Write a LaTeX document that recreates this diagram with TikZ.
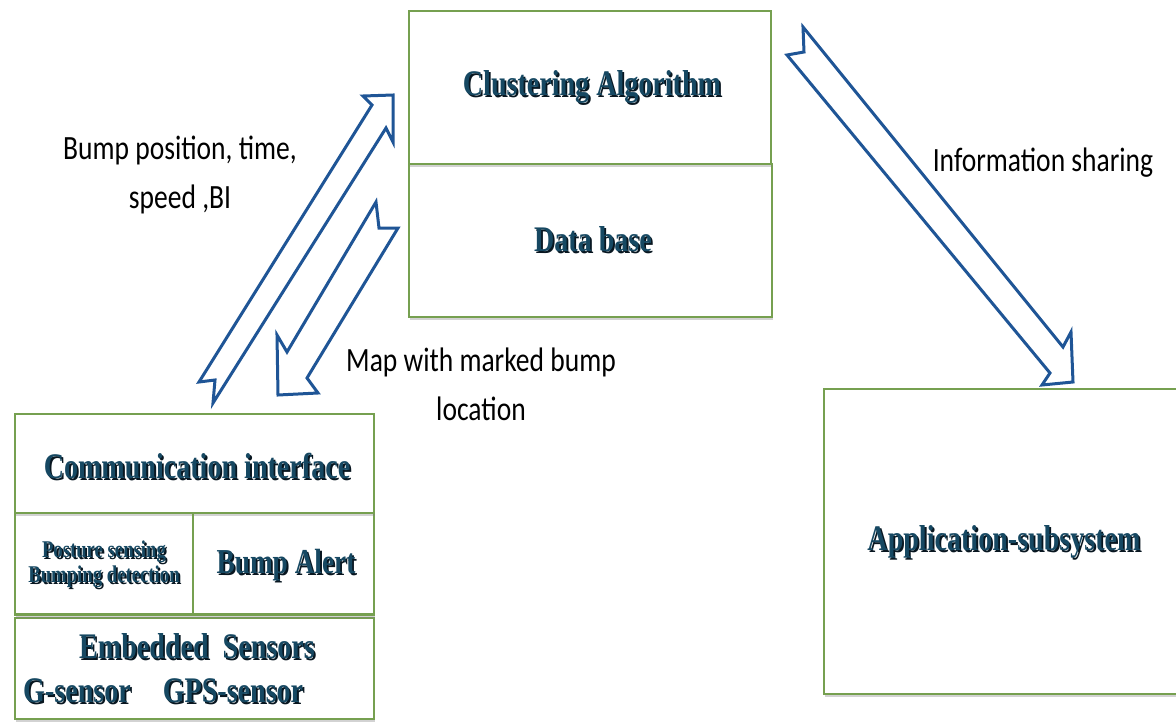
\documentclass[tikz,border=0pt]{standalone}
\usepackage{fontspec}
\usetikzlibrary{shadows}
\newfontfamily\boxfont[FakeStretch=0.78]{Liberation Serif}
\newfontfamily\lblfont[FakeStretch=0.81]{Carlito}
\definecolor{boxgreen}{RGB}{118,160,80}
\definecolor{arrowblue}{RGB}{31,85,150}
\definecolor{txtface}{RGB}{22,72,98}
\definecolor{txtshadow}{RGB}{8,22,32}
% bold box caption with a dark offset shadow
\newcommand{\shtext}[1]{{\rlap{\kern1.8pt\raisebox{-1.8pt}{\textcolor{txtshadow}{#1}}}\textcolor{txtface}{#1}}}
\begin{document}
\begin{tikzpicture}[x=1pt,y=-1pt,
  panel/.style={draw=boxgreen, line width=2pt, fill=white, inner sep=0pt,
    drop shadow={shadow xshift=1pt, shadow yshift=-2.5pt, opacity=0.35}},
  cell/.style={draw=boxgreen, line width=2pt, inner sep=0pt},
  caption/.style={font=\boxfont\bfseries\fontsize{36}{40}\selectfont, inner sep=0pt},
  smallcaption/.style={font=\boxfont\bfseries\fontsize{24}{28}\selectfont, inner sep=0pt, align=center},
  flowlabel/.style={font=\lblfont\fontsize{34}{49}\selectfont, inner sep=0pt, align=center, text=black},
  blockarrow/.style={draw=arrowblue, line width=3pt, fill=white, line join=miter}]
\useasboundingbox (0,0) rectangle (1176,721);
\fill[white] (0,0) rectangle (1176,721);

% server: clustering + data base
\node[panel, anchor=north west, minimum width=363pt, minimum height=153pt] (db) at (408,163) {};
\node[panel, anchor=north west, minimum width=362pt, minimum height=153pt] (clus) at (408,10) {};
\node[caption] at (592,88) {\shtext{Clustering Algorithm}};
\node[caption] at (593,240) {\shtext{Data base}};

% vehicle unit
\node[panel, anchor=north west, minimum width=359pt, minimum height=101pt] (sens) at (14,617) {};
\node[panel, anchor=north west, minimum width=359pt, minimum height=102pt] (mid) at (14,512) {};
\node[panel, anchor=north west, minimum width=359pt, minimum height=99pt] (comm) at (14,413) {};
\draw[cell] (193,512) -- (193,614);
\draw[cell] (14,614) -- (373,614);
\node[caption] at (197,467) {\shtext{Communication interface}};
\node[smallcaption] at (104,565) {\shtext{Posture sensing}\\[-3pt]\shtext{Bumping detection}};
\node[caption, font=\boxfont\bfseries\fontsize{35}{40}\selectfont] at (286,566) {\shtext{Bump Alert}};
\node[caption] at (197,647) {\shtext{Embedded\ \ Sensors}};
\node[caption] at (77,692) {\shtext{G-sensor}};
\node[caption] at (233,692) {\shtext{GPS-sensor}};

% application side
\node[panel, anchor=north west, minimum width=356pt, minimum height=305pt] (app) at (823,388) {};
\node[caption] at (1004,543) {\shtext{Application-subsystem}};

% block arrows
\draw[blockarrow] (199,382) -- (372,105) -- (363,96) -- (393,95) -- (393,142)
  -- (386,128) -- (213,403) -- (215,380) -- cycle;
\draw[blockarrow] (376,202) -- (287,352) -- (277,335) -- (278,395) -- (318,393)
  -- (307,378) -- (398,228) -- (379,228) -- cycle;
\draw[blockarrow] (803,27) -- (1063,347) -- (1071,332) -- (1073,382) -- (1042,385)
  -- (1050,373) -- (787,55) -- (804,52) -- cycle;

% arrow labels
\node[flowlabel] (up) at (180,175) {Bump position, time,\\speed ,BI};
\node[flowlabel] (down) at (481,384) {Map with marked bump\\location};
\node[flowlabel, anchor=base] (share) at (1043,171) {Information sharing};
\end{tikzpicture}
\end{document}
